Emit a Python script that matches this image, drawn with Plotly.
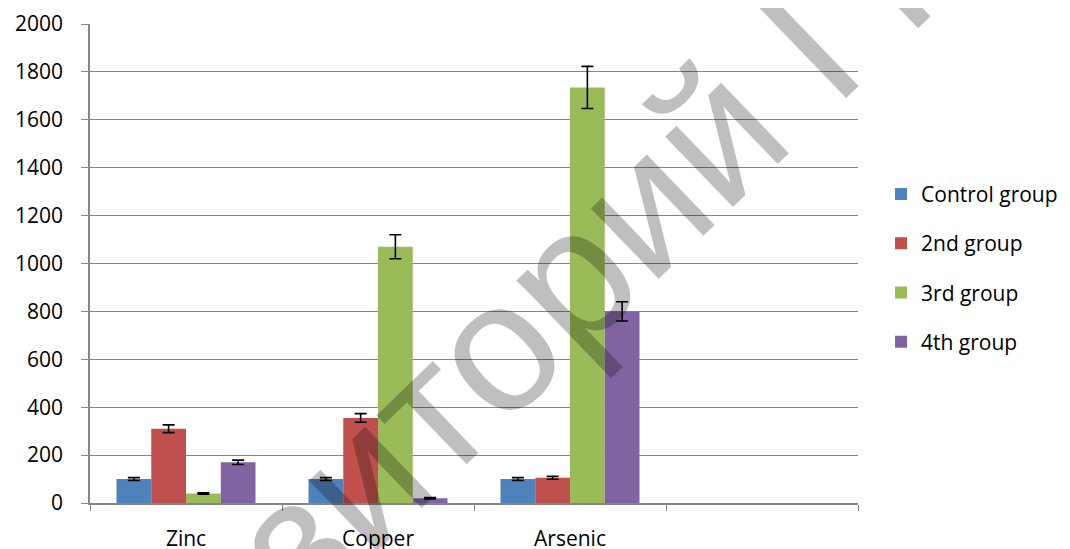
import plotly.graph_objects as go

categories = ["Zinc", "Copper", "Arsenic", " "]
series_names = ["Control group", "2nd group", "3rd group", "4th group"]
control = [100, 100, 100, None]
group2 = [310, 355, 105, None]
group3 = [40, 1070, 1735, None]
group4 = [170, 20, 800, None]
err_control = [6, 6, 6, None]
err2 = [16, 18, 6, None]
err3 = [3, 50, 88, None]
err4 = [9, 3, 40, None]
colors = ["#4F81BD", "#C0504D", "#9BBB59", "#8064A2"]
y_ticks = list(range(0, 2001, 200))

FONT = "Open Sans"

fig = go.Figure()
for i, (name, vals, errs) in enumerate(zip(series_names,
                                           [control, group2, group3, group4],
                                           [err_control, err2, err3, err4])):
    fig.add_trace(go.Bar(
        x=categories, y=vals, name=name, legendgroup=name,
        marker=dict(color=colors[i], line=dict(width=0)),
        error_y=dict(type="data", array=errs, visible=True,
                     color="black", thickness=1.6, width=6),
    ))

fig.add_annotation(
    text="Репозиторий ГГУ", x=0.522, y=0.315, xref="paper", yref="paper",
    xanchor="center", yanchor="middle",
    showarrow=False, textangle=-44,
    font=dict(family="Liberation Sans", size=185, color="rgba(0,0,0,0.25)"),
)

# page body has an 8px margin: compensate so the plot area lands at 90..858 x 24..503
fig.update_layout(
    width=1070, height=549,
    margin=dict(l=82, r=220, t=16, b=54, autoexpand=False),
    paper_bgcolor="white", plot_bgcolor="white",
    barmode="group", bargap=0.276, bargroupgap=0,
    font=dict(family=FONT, size=21, color="black"),
    legend=dict(x=1.03, y=0.49, xanchor="left", yanchor="middle",
                tracegroupgap=19, font=dict(size=21, family=FONT),
                bgcolor="rgba(0,0,0,0)", itemwidth=30),
    showlegend=True,
)
fig.update_xaxes(
    type="category", categoryorder="array", categoryarray=categories,
    range=[-0.5, 3.5], tickson="boundaries", ticks="outside", ticklen=6,
    tickcolor="#868686", showline=True, linecolor="#868686", linewidth=1.5,
    showgrid=False, ticklabelstandoff=16, tickfont=dict(size=21, family=FONT),
    automargin=False,
)
fig.update_yaxes(
    range=[0, 2000], tickvals=y_ticks, ticks="outside", ticklen=7,
    tickcolor="#868686", showline=True, linecolor="#868686", linewidth=1.5,
    showgrid=True, gridcolor="#868686", gridwidth=1.2, zeroline=False,
    ticklabelstandoff=14, tickfont=dict(size=21, family=FONT),
    automargin=False,
)

fig.write_html("out.html")
